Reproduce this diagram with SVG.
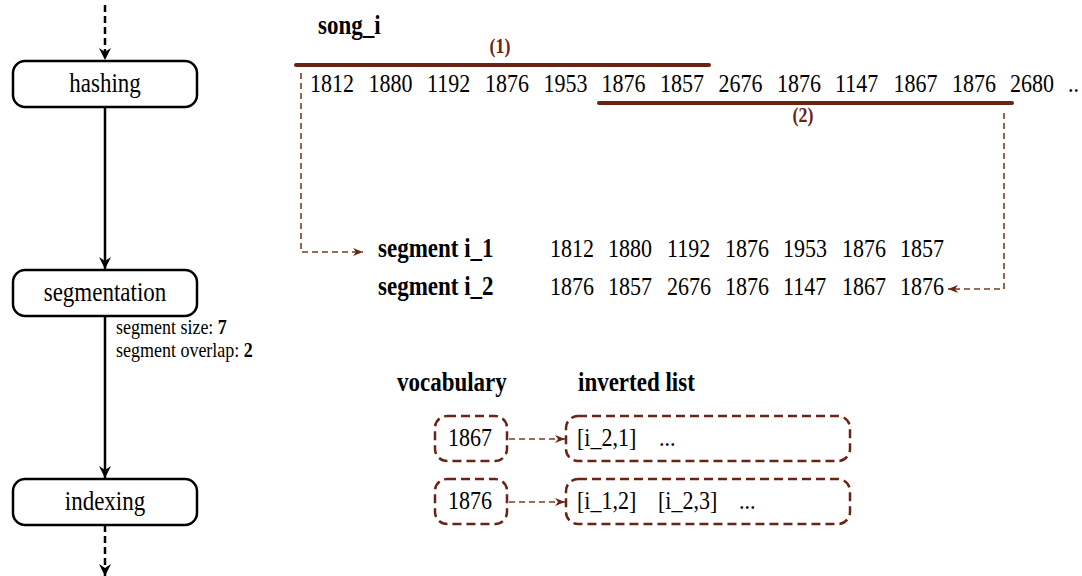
<svg xmlns="http://www.w3.org/2000/svg" width="1082" height="576" viewBox="0 0 1082 576">
<defs>
<style>
.t,.br{font-family:"Liberation Serif","Times New Roman",serif;fill:#000;transform-box:fill-box;transform-origin:0 80.5%;transform:scaleY(1.15)}
.n{font-size:22px}
.L{font-size:23px}
.b{font-weight:bold}
.br{fill:#6b2414;font-weight:bold;font-size:18px}
.box{fill:#fff;stroke:#000;stroke-width:2.5}
.dbox{fill:none;stroke:#6b2414;stroke-width:2.5;stroke-dasharray:9 5}
.flow{stroke:#000;stroke-width:2.5;fill:none}
.dash{stroke:#000;stroke-width:2.5;fill:none;stroke-dasharray:7 4}
.bl{stroke:#6b2414;stroke-width:4;fill:none;stroke-linecap:round}
.bd{stroke:#7a3a2a;stroke-width:1.6;fill:none;stroke-dasharray:6 4}
</style>
<marker id="ak" markerWidth="14" markerHeight="14" refX="12" refY="7" orient="auto" markerUnits="userSpaceOnUse">
<path d="M0,1 L12,7 L0,13 L4,7 Z" fill="#000"/>
</marker>
<marker id="ab" markerWidth="12" markerHeight="10" refX="10" refY="5" orient="auto" markerUnits="userSpaceOnUse">
<path d="M0,1 L10,5 L0,9 L3,5 Z" fill="#6b2414"/>
</marker>
</defs>

<g id="connectors">
<line class="dash" x1="105" y1="5" x2="105" y2="60" marker-end="url(#ak)"/>
<line class="flow" x1="105" y1="107" x2="105" y2="269" marker-end="url(#ak)"/>
<line class="flow" x1="105" y1="316" x2="105" y2="478" marker-end="url(#ak)"/>
<line class="dash" x1="105" y1="525" x2="105" y2="576" marker-end="url(#ak)"/>
<polyline class="bd" points="301,73 301,252 363,252" marker-end="url(#ab)"/>
<polyline class="bd" points="1004,113 1004,289 948,289" marker-end="url(#ab)"/>
<line class="bd" x1="509" y1="439" x2="565" y2="439" marker-end="url(#ab)"/>
<line class="bd" x1="509" y1="502" x2="565" y2="502" marker-end="url(#ab)"/>
</g>

<g id="hashing">
<rect class="box" x="13" y="61" width="184" height="46" rx="12"/>
<text class="t L" x="105" y="92" text-anchor="middle">hashing</text>
</g>
<g id="segmentation">
<rect class="box" x="13" y="270" width="184" height="46" rx="12"/>
<text class="t L" x="105" y="301" text-anchor="middle">segmentation</text>
<text class="t" x="116" y="334" font-size="18">segment size: <tspan class="b">7</tspan></text>
<text class="t" x="116" y="357" font-size="18">segment overlap: <tspan class="b">2</tspan></text>
</g>
<g id="indexing">
<rect class="box" x="13" y="479" width="184" height="46" rx="12"/>
<text class="t L" x="105" y="510" text-anchor="middle">indexing</text>
</g>

<g id="song">
<text class="t b L" x="318" y="34">song_i</text>
<text class="br" x="500" y="53" text-anchor="middle">(1)</text>
<line class="bl" x1="296" y1="65" x2="709" y2="65"/>
<g>
<text class="t n" x="310" y="92">1812</text>
<text class="t n" x="368.5" y="92">1880</text>
<text class="t n" x="427" y="92">1192</text>
<text class="t n" x="485" y="92">1876</text>
<text class="t n" x="543.5" y="92">1953</text>
<text class="t n" x="601.5" y="92">1876</text>
<text class="t n" x="660" y="92">1857</text>
<text class="t n" x="718.5" y="92">2676</text>
<text class="t n" x="777" y="92">1876</text>
<text class="t n" x="835" y="92">1147</text>
<text class="t n" x="893.5" y="92">1867</text>
<text class="t n" x="952" y="92">1876</text>
<text class="t n" x="1010" y="92">2680</text>
<text class="t n" x="1068" y="92">..</text>
</g>
<line class="bl" x1="599" y1="103" x2="1012" y2="103"/>
<text class="br" x="803" y="122" text-anchor="middle">(2)</text>
</g>

<g id="segments">
<text class="t b L" x="378" y="257">segment i_1</text>
<g>
<text class="t n" x="550" y="257">1812</text>
<text class="t n" x="608" y="257">1880</text>
<text class="t n" x="667" y="257">1192</text>
<text class="t n" x="725" y="257">1876</text>
<text class="t n" x="783" y="257">1953</text>
<text class="t n" x="842" y="257">1876</text>
<text class="t n" x="900" y="257">1857</text>
</g>
<text class="t b L" x="378" y="295">segment i_2</text>
<g>
<text class="t n" x="550" y="295">1876</text>
<text class="t n" x="608" y="295">1857</text>
<text class="t n" x="667" y="295">2676</text>
<text class="t n" x="725" y="295">1876</text>
<text class="t n" x="783" y="295">1147</text>
<text class="t n" x="842" y="295">1867</text>
<text class="t n" x="900" y="295">1876</text>
</g>
</g>

<g id="index">
<text class="t b L" x="397" y="391">vocabulary</text>
<text class="t b L" x="578" y="391">inverted list</text>
</g>
<g id="vocab-1867">
<rect class="dbox" x="435" y="416" width="72" height="45" rx="12"/>
<text class="t n" x="470" y="446" text-anchor="middle">1867</text>
</g>
<g id="list-1867">
<rect class="dbox" x="566" y="416" width="284" height="45" rx="12"/>
<text class="t n" x="577" y="446">[i_2,1]</text>
<text class="t n" x="659" y="446">...</text>
</g>
<g id="vocab-1876">
<rect class="dbox" x="435" y="479" width="72" height="45" rx="12"/>
<text class="t n" x="470" y="509" text-anchor="middle">1876</text>
</g>
<g id="list-1876">
<rect class="dbox" x="566" y="479" width="284" height="45" rx="12"/>
<text class="t n" x="577" y="509">[i_1,2]</text>
<text class="t n" x="658" y="509">[i_2,3]</text>
<text class="t n" x="739" y="509">...</text>
</g>
</svg>
